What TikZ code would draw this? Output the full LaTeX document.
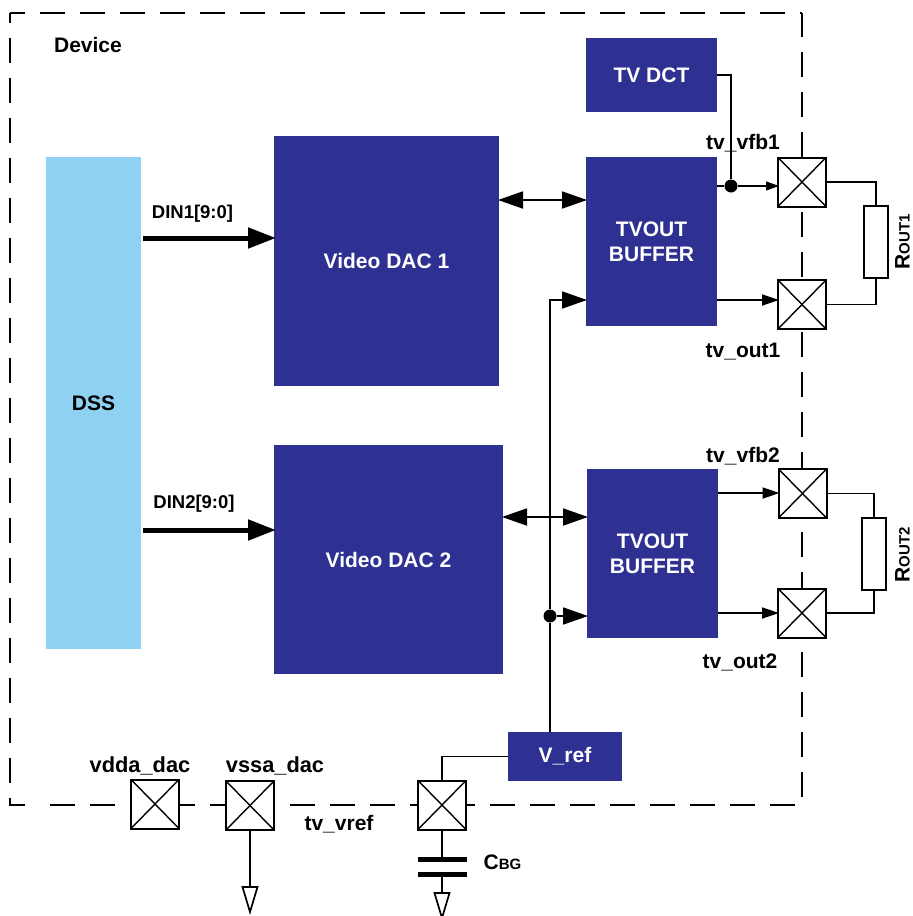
\documentclass[tikz,border=0pt]{standalone}
\usepackage{fontspec}
\setmainfont{Liberation Sans}
\usetikzlibrary{arrows.meta,positioning,calc}
\definecolor{blockblue}{HTML}{2E3192}
\definecolor{dssblue}{HTML}{8ED1F0}

\tikzset{
  lbl/.style={font=\bfseries\fontsize{21}{25}\selectfont, inner sep=0pt},
  dinlbl/.style={font=\bfseries\fontsize{18.5}{22}\selectfont, inner sep=0pt},
  block/.style={fill=blockblue, text=white, align=center, inner sep=0pt, outer sep=0pt, lbl},
  devline/.style={line width=2.6pt, dash pattern=on 25pt off 15pt},
  padbox/.style={draw, fill=white, line width=2pt, minimum width=48pt, minimum height=49pt, inner sep=0pt, outer sep=0pt,
    path picture={\draw[line width=1.4pt] (path picture bounding box.north west) -- (path picture bounding box.south east);
      \draw[line width=1.4pt] (path picture bounding box.south west) -- (path picture bounding box.north east);}},
  res/.style={draw, fill=white, line width=2pt, minimum width=24pt, minimum height=72pt, inner sep=0pt, outer sep=0pt},
  junction/.style={circle, fill=black, minimum size=13pt, inner sep=0pt},
  plate/.style={fill=black, minimum width=49pt, minimum height=5pt, inner sep=0pt, outer sep=0pt},
  wire/.style={line width=1.8pt},
  busarrow/.style={line width=5pt, shorten >=-2pt, -{Triangle[length=28pt,width=20pt]}},
  bigarrow/.style={line width=1.8pt, shorten >=-1pt, -{Triangle[length=25pt,width=17pt]}},
  bothway/.style={line width=1.8pt, shorten >=-1pt, shorten <=-1pt, {Triangle[length=25pt,width=17pt]}-{Triangle[length=25pt,width=17pt]}},
  outarrow/.style={line width=1.8pt, shorten >=-1pt, -{Triangle[length=17pt,width=11pt]}},
  gnd/.style={line width=1.7pt, fill=white}
}

\begin{document}
\begin{tikzpicture}[x=1pt, y=-1pt]
  \useasboundingbox (0,0) rectangle (913,916);

  % Device outline
  \draw[devline, dash phase=10pt] (10,13) -- (802,13);
  \draw[devline, dash phase=15pt] (10,13) -- (10,805) -- (25,805);
  \draw[devline] (50,805) -- (802,805);
  \draw[devline, dash phase=1pt] (802,13) -- (802,805);

  % Define nodes
  \node (device) [lbl] at (88,45) {Device};
  \node (dss) [fill=dssblue, lbl, outer sep=0pt, minimum width=95pt, minimum height=492pt] at (93.5,403) {DSS};
  \node (dac1) [block, minimum width=225pt, minimum height=250pt] at (386.5,261) {Video DAC 1};
  \node (dac2) [block, minimum width=229pt, minimum height=229pt] at (388.5,559.5) {Video DAC 2};
  \node (dct) [block, minimum width=131pt, minimum height=74pt] at (651.5,75) {TV DCT};
  \node (buf1) [block, minimum width=131pt, minimum height=169pt] at (651.5,241.5) {TVOUT\\BUFFER};
  \node (buf2) [block, minimum width=131pt, minimum height=169pt] at (652.5,553.5) {TVOUT\\BUFFER};
  \node (vref) [block, minimum width=114pt, minimum height=49pt] at (565,756.5) {V\_ref};

  \node (fb1) [padbox] at (802,182) {};
  \node (out1) [padbox] at (802,304.5) {};
  \node (fb2) [padbox] at (802.5,493.5) {};
  \node (out2) [padbox] at (802,613) {};
  \node (vdda) [padbox] at (155,804) {};
  \node (vssa) [padbox] at (250,805.5) {};
  \node (tvref) [padbox] at (442,805) {};

  \node (rout1) [res] at (876,242) {};
  \node (rout2) [res] at (874,554) {};
  \node (capa) [plate] at (442,859.5) {};
  \node (capb) [plate, below=10pt of capa] {};

  \node (dot1) [junction] at (731,186) {};
  \node (dot2) [junction] at (550,616) {};

  \coordinate (din1) at (143,238);
  \coordinate (din2) at (143,530);
  \coordinate (bus1) at (499,200);
  \coordinate (bus2) at (503,517);
  \coordinate (ref1) at (586,300);
  \coordinate (o1) at (717,300);
  \coordinate (f2) at (718,493);
  \coordinate (o2) at (718,613);
  \coordinate (gnd1) at (250,887);
  \coordinate (gnd2) at (442,893);

  % Draw arrows
  \draw[busarrow] (din1) -- (din1 -| dac1.west);
  \draw[busarrow] (din2) -- (din2 -| dac2.west);
  \draw[bothway] (bus1) -- (bus1 -| buf1.west);
  \draw[bothway] (bus2) -- (bus2 -| buf2.west);
  \draw[wire] (vref.north -| dot2) -- (dot2);
  \draw[bigarrow] (dot2) |- (ref1);
  \draw[bigarrow] (dot2) -- (dot2 -| buf2.west);
  \draw[wire] (dct.east) -| (dot1);
  \draw[line width=1.2pt] (dot1 -| buf1.east) -- (dot1);
  \draw[line width=1.2pt, shorten >=-1pt, -{Triangle[length=13pt,width=9pt]}] (dot1) -- (dot1 -| fb1.west);
  \draw[outarrow] (o1) -- (o1 -| out1.west);
  \draw[outarrow] (f2) -- (f2 -| fb2.west);
  \draw[outarrow] (o2) -- (o2 -| out2.west);

  % Outer wiring
  \draw[wire] (fb1.east) -| (rout1.north);
  \draw[wire] (out1.east) -| (rout1.south);
  \draw[wire] (fb2.east) -| (rout2.north);
  \draw[wire] (out2.east) -| (rout2.south);
  \draw[wire] (vref.west) -| (tvref.north);
  \draw[wire] (tvref.south) -- (capa.north);
  \draw[wire] (capb.south) -- (gnd2);
  \draw[wire] (vssa.south) -- (gnd1);
  \draw[gnd] ($(gnd1)+(-7.5,0)$) -- ($(gnd1)+(7.5,0)$) -- ($(gnd1)+(0,25)$) -- cycle;
  \draw[gnd] ($(gnd2)+(-7.5,0)$) -- ($(gnd2)+(7.5,0)$) -- ($(gnd2)+(0,25)$) -- cycle;

  % Add labels
  \node (din1lbl) [dinlbl] at (192.5,214) {DIN1[9:0]};
  \node (din2lbl) [dinlbl] at (194,504) {DIN2[9:0]};
  \node (fb1lbl) [lbl] at (743,143) {tv\_vfb1};
  \node (out1lbl) [lbl] at (743,352) {tv\_out1};
  \node (fb2lbl) [lbl] at (743,456) {tv\_vfb2};
  \node (out2lbl) [lbl] at (740,662) {tv\_out2};
  \node (vddalbl) [lbl, font=\bfseries\fontsize{21.8}{25}\selectfont] at (140,766) {vdda\_dac};
  \node (vssalbl) [lbl, font=\bfseries\fontsize{21.8}{25}\selectfont] at (275,766) {vssa\_dac};
  \node (tvreflbl) [lbl] at (339,824) {tv\_vref};
  \node (cbglbl) [lbl, right=17pt of capa.south east] {C{\fontsize{15}{15}\selectfont BG}};
  \node (rout1lbl) [lbl, rotate=90] at (902.5,242) {R{\fontsize{15}{15}\selectfont OUT1}};
  \node (rout2lbl) [lbl, rotate=90] at (902.5,555) {R{\fontsize{15}{15}\selectfont OUT2}};
\end{tikzpicture}
\end{document}
